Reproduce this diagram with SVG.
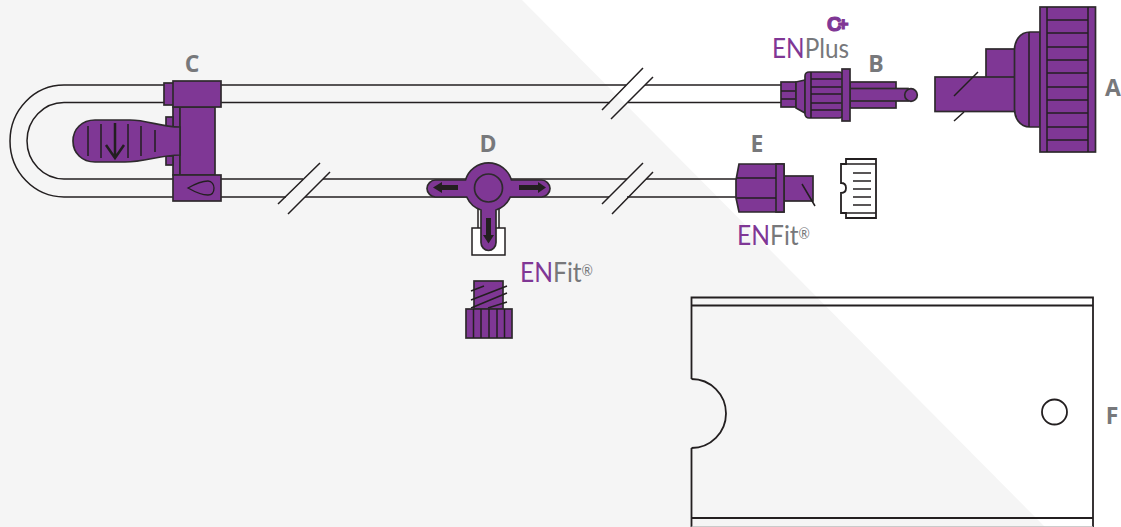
<svg xmlns="http://www.w3.org/2000/svg" width="1121" height="527" viewBox="0 0 1121 527">
<style>
.o{fill:none;stroke:#231f20;stroke-width:1.5}
.w{fill:#fff;stroke:#231f20;stroke-width:1.8}
.p{fill:#7f3795;stroke:#2e2a2d;stroke-width:1.7}
.l{fill:none;stroke:#231f20;stroke-width:1.5}
.d{fill:#231f20;stroke:none}
.t{font-family:"Open Sans","Liberation Sans",sans-serif;font-weight:700;font-size:23px;fill:#77787b;text-anchor:middle}
.e{font-family:"Lato","Open Sans",sans-serif;font-size:27px;fill:#77787b}
.v{fill:#7f3795}
.r{font-size:15px}
</style>
<rect width="1121" height="527" fill="#fff"/>
<polygon points="0,0 522,0 1045,527 0,527" fill="#f5f5f5"/>
<g id="connectors">
<path class="o" d="M164 85H64A54 56 0 0 0 64 197H174"/>
<path class="o" d="M164 102.500H64A37 38.250 0 0 0 64 179H174"/>
<path class="o" d="M221 85H626M645 85H781M221 102.500H610M628 102.500H781"/>
<path class="o" d="M221 179H303M323 179H627M646 179H737M221 197H286M305 197H609M627 197H737"/>
<path class="l" d="M278 204L320 163M288 214L330 172M602 110L643 68M611 119L653 77M602 204L643 163M612 214L653 172"/>
</g>
<g id="node-c">
<rect class="p" x="164" y="83" width="10" height="22"/>
<rect class="p" x="173" y="107" width="7" height="68"/>
<rect class="p" x="180" y="107" width="35" height="68"/>
<rect class="p" x="166" y="117" width="7" height="10"/>
<rect class="p" x="166" y="156" width="7" height="9"/>
<path class="p" d="M180 127C160 127 148 120 130 120H95C82 120 73 129 73 141C73 153 82 162 95 162H125C145 162 160 155 180 155Z"/>
<path class="l" d="M88 126V156M101 124V158M128 124V158M141 126V156M155 130V152"/>
<path d="M115 123V158M106 145L115 158L124 145" fill="none" stroke="#231f20" stroke-width="2.5"/>
<rect class="p" x="173" y="81" width="48" height="26"/>
<rect class="p" x="173" y="175" width="48" height="26"/>
<path d="M188 188C195 184 202 181 208 181C212 181 214 185 214 188C214 192 212 195 208 195C202 195 195 192 188 188Z" fill="none" stroke="#231f20" stroke-width="1.3"/>
</g>
<g id="node-d">
<rect class="o" x="478" y="205" width="21" height="26" fill="#f5f5f5"/>
<rect x="472" y="228" width="33" height="27" fill="#fff" stroke="#231f20" stroke-width="1.5"/>
<path class="p" d="M511.500 180H541.500C546 180 550 184 550 188.500C550 193 546 197 541.500 197H510.300A24 24 0 0 1 496 210V242.500C496 247 492.500 250.500 488.500 250.500C484.500 250.500 481 247 481 242.500V210A24 24 0 0 1 466.700 197H435.500C431 197 427 193 427 188.500C427 184 431 180 435.500 180H465.500A24 24 0 0 1 511.500 180Z"/>
<circle cx="488.500" cy="188" r="14" class="p"/>
<path class="d" d="M458 185H442V182L433 187.500L442 193V190H458ZM519 185H538V182L546 187.500L538 193V190H519ZM486 218V235H483L488.500 243.500L494 235H491V218Z"/>
<rect class="p" x="474" y="281" width="29" height="28"/>
<path class="l" d="M471 291L484 286M471 300L507 286M471 308L507 293M488 308L507 302"/>
<rect class="p" x="466" y="309" width="46" height="29"/>
<path class="l" d="M473.500 309V338M481 309V338M489 309V338M497 309V338M504.500 309V338"/>
</g>
<g id="node-b">
<rect class="p" x="781" y="82" width="15" height="25"/>
<path class="l" d="M781 91H796M781 99H796"/>
<path class="p" d="M796 82L805 80V113L796 108Z"/>
<rect class="p" x="805" y="72" width="38" height="46" rx="4"/>
<path class="l" d="M811 72V118M811 79H843M811 87H843M811 94H843M811 103H843M811 110H843"/>
<rect class="p" x="850" y="82" width="46" height="26"/>
<rect class="p" x="850" y="88.500" width="58" height="12.500"/>
<rect class="p" x="842" y="69" width="8" height="52"/>
<circle class="p" cx="911" cy="95" r="6.300"/>
</g>
<g id="node-a">
<rect class="p" x="986" y="49" width="35" height="30"/>
<rect class="p" x="935" y="77" width="83" height="34.500"/>
<path class="p" d="M1040 32H1030C1019 32 1014.500 42 1014.500 50V109C1014.500 117 1019 127 1030 127H1040Z"/>
<path class="l" d="M1029 32V127"/>
<rect class="p" x="1040" y="7" width="55.500" height="145"/>
<path class="l" d="M1047 7V152M1088 7V152M1047 20H1088M1047 33H1088M1047 47H1088M1047 60H1088M1047 73H1088M1047 87H1088M1047 100H1088M1047 113H1088M1047 127H1088M1047 140H1088"/>
<path class="l" d="M954 96L978 72M954 121L964 112"/>
</g>
<g id="node-e">
<rect class="p" x="784" y="176" width="29" height="25"/>
<path class="p" d="M739 164H784V212H739L736 198V180Z"/>
<rect class="p" x="776" y="164" width="8" height="48"/>
<path class="l" d="M737 178H776M737 198H776M802 184L815 206"/>
<path class="w" d="M846 159H876V218H846V213H841V193C845 193 846 190 846 188C846 186 845 183 841 183V164H846Z"/>
<path class="l" d="M846 164H876M846 213H876"/>
<path d="M853 173H871M853 181H871M853 189H871M853 197H871M853 205H871" fill="none" stroke="#231f20" stroke-width="1.7"/>
</g>
<g id="node-f">
<path fill="none" stroke="#231f20" stroke-width="1.8" d="M691.500 379V297.500H1093V527M691.500 448V527M691.500 305.500H1093M691.500 518H1093"/>
<path d="M691.500 527H1093" stroke="#bbb" stroke-width="1.500" fill="none"/>
<path d="M691.500 379A34.500 34.500 0 0 1 691.500 448" fill="none" stroke="#231f20" stroke-width="1.8"/>
<circle class="w" cx="1054.500" cy="412" r="12.500"/>
</g>
<g id="labels">
<text class="t" x="192" y="72">C</text>
<text class="t" x="488" y="152">D</text>
<text class="t" x="876" y="72">B</text>
<text class="t" x="1113" y="96">A</text>
<text class="t" x="757" y="152">E</text>
<text class="t" x="1112" y="424">F</text>
<text class="e" x="772" y="58" textLength="77" lengthAdjust="spacingAndGlyphs"><tspan class="v">EN</tspan>Plus</text>
<text class="e" x="737" y="245" textLength="73" lengthAdjust="spacingAndGlyphs"><tspan class="v">EN</tspan>Fit<tspan class="r" dy="-6">®</tspan></text>
<text class="e" x="520" y="282" textLength="73" lengthAdjust="spacingAndGlyphs"><tspan class="v">EN</tspan>Fit<tspan class="r" dy="-6">®</tspan></text>
<text x="827" y="31" font-family="Liberation Sans,sans-serif" font-weight="700" font-size="20" fill="#7f3795" stroke="#7f3795" stroke-width="1.2">C<tspan dx="-3.500" dy="-1" font-size="18">+</tspan></text>
</g>
</svg>
